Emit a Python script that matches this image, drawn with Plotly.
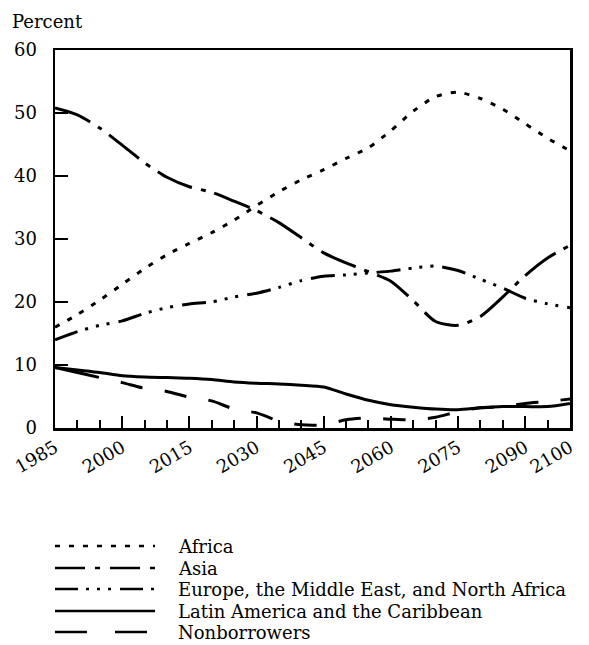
import plotly.graph_objects as go

years = list(range(1985, 2101, 5))

africa = [16.0, 18.0, 20.3, 22.8, 25.3, 27.5, 29.3, 31.0, 33.0, 35.3, 37.5, 39.4,
          41.0, 42.8, 44.5, 47.2, 50.3, 52.6, 53.3, 52.3, 50.6, 48.3, 46.0, 44.0]
asia = [50.8, 49.7, 47.6, 44.9, 42.1, 39.8, 38.3, 37.4, 36.0, 34.5, 32.6, 30.2,
        27.8, 26.2, 24.8, 23.3, 20.2, 16.9, 16.3, 17.7, 20.8, 24.2, 27.0, 29.0]
europe = [14.0, 15.3, 16.3, 17.0, 18.2, 19.1, 19.7, 20.0, 20.8, 21.4, 22.3, 23.4,
          24.1, 24.3, 24.6, 24.9, 25.4, 25.7, 25.0, 23.6, 22.2, 20.6, 19.7, 19.1]
latin = [9.6, 9.2, 8.8, 8.3, 8.1, 8.0, 7.9, 7.7, 7.3, 7.1, 7.0, 6.8,
         6.5, 5.4, 4.4, 3.7, 3.3, 3.0, 2.9, 3.2, 3.4, 3.4, 3.4, 3.9]
nonborrowers = [9.6, 8.8, 8.0, 7.2, 6.3, 5.8, 4.9, 4.3, 3.0, 2.4, 1.1, 0.5,
                0.5, 1.3, 1.6, 1.4, 1.3, 1.7, 2.6, 3.2, 3.4, 3.9, 4.2, 4.6]

series_names = ["Africa", "Asia", "Europe, the Middle East, and North Africa",
                "Latin America and the Caribbean", "Nonborrowers"]

x_tick_vals = [1985, 2000, 2015, 2030, 2045, 2060, 2075, 2090, 2100]
x_tick_text = ["1985", "2000", "2015", "2030", "2045", "2060", "2075", "2090", "2100"]
y_tick_vals = [0, 10, 20, 30, 40, 50, 60]

FONT = "DejaVu Serif"
LW = 3
nb_dash = "44.8px,22.4px" + ",22.4px,22.4px" * 14
dashes = [
    "5px,9px",
    "38px,9px,5px,9px",
    "24px,8px,3px,8px,3px,8px,3px,9px",
    "solid",
    nb_dash,
]
legend_dashes = [
    "5px,9px",
    "30px,10px,5px,10px",
    "23px,8px,3px,8px,3px,8px,3px,9px",
    "solid",
    "32px,28px",
]
data = [africa, asia, europe, latin, nonborrowers]

fig = go.Figure()
for name, vals, d in zip(series_names, data, dashes):
    fig.add_trace(go.Scatter(
        x=years, y=vals, mode="lines", name=name,
        line=dict(color="black", width=LW, dash=d, shape="spline", smoothing=0.7),
        showlegend=False, hoverinfo="skip",
    ))

# plot area in pixels: x 55..570, y 50..428
L, R, T, B = 55, 570, 50, 428
W, H = 589, 645

def px_x(p):
    return (p - L) / (R - L)

def px_y(p):
    return (B - p) / (B - T)

# manual legend
rows = [546, 568, 589, 611, 632]
for name, d, ry in zip(series_names, legend_dashes, rows):
    fig.add_shape(type="line", xref="paper", yref="paper",
                  x0=px_x(55), x1=px_x(155), y0=px_y(ry), y1=px_y(ry),
                  line=dict(color="black", width=2.6, dash=d))
    fig.add_annotation(xref="paper", yref="paper", x=px_x(176), y=px_y(ry),
                       text=name, showarrow=False, xanchor="left", yanchor="middle",
                       font=dict(family=FONT, size=18, color="black"))

fig.add_annotation(xref="paper", yref="paper", x=px_x(10), y=px_y(22),
                   text="Percent", showarrow=False, xanchor="left", yanchor="middle",
                   font=dict(family=FONT, size=18, color="black"))

fig.update_layout(
    width=W, height=H, autosize=False,
    margin=dict(l=L, r=W - R, t=T, b=H - B, pad=0),
    paper_bgcolor="white", plot_bgcolor="white",
    showlegend=False,
)
fig.update_xaxes(
    range=[1985, 2100], tickmode="array", tickvals=x_tick_vals, ticktext=x_tick_text,
    tickangle=-30, ticks="inside", ticklen=12, tickwidth=2, tickcolor="black",
    minor=dict(dtick=5, tick0=1985, ticks="inside", ticklen=8, tickwidth=2, tickcolor="black"),
    showline=True, linewidth=2.5, linecolor="black", mirror=True,
    showgrid=False, zeroline=False,
    tickfont=dict(family=FONT, size=18, color="black"),
)
fig.update_yaxes(
    range=[0, 60], tickmode="array", tickvals=y_tick_vals,
    ticks="inside", ticklen=13, tickwidth=2, tickcolor="black",
    showline=True, linewidth=2.5, linecolor="black", mirror=True,
    showgrid=False, zeroline=False, ticklabelstandoff=12,
    tickfont=dict(family=FONT, size=18, color="black"),
)

fig.write_html(
    "out.html",
    config={"displayModeBar": False, "staticPlot": True},
    post_script="document.body.style.margin='0';document.body.style.overflow='hidden';",
)
